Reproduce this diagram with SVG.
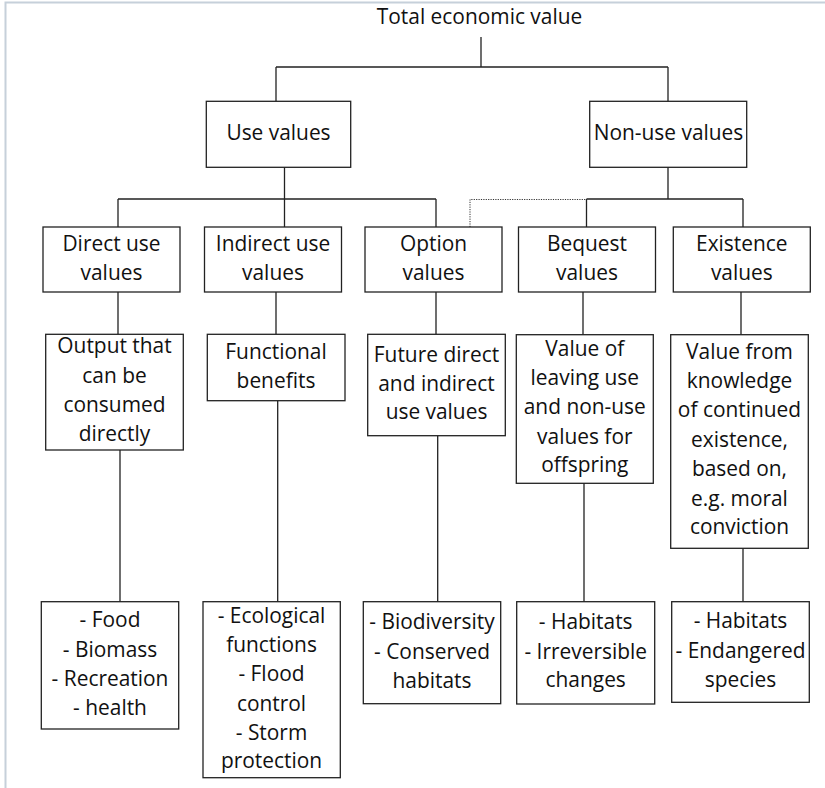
<svg xmlns="http://www.w3.org/2000/svg" width="825" height="788" viewBox="0 0 825 788">
<style>
.box{fill:#fff;stroke:#222;stroke-width:1.3}
.ln{fill:none;stroke:#222;stroke-width:1.3}
.dot{fill:none;stroke:#333;stroke-width:1;stroke-dasharray:1.2 1.2}
.frame{fill:none;stroke:#c6d0da;stroke-width:2}
text{font-family:"Open Sans","Noto Sans","DejaVu Sans",sans-serif;font-size:20.9px;fill:#111;text-anchor:middle}
</style>
<rect width="825" height="788" fill="#fff"/>
<path class="frame" d="M5.5,788 V2.5 H825"/>
<g id="connectors">
<path class="ln" d="M481,37 V67 M276,67 H668 M276,67 V101 M668,67 V101"/>
<path class="ln" d="M284.5,167 V227 M118,199 H436 M118,199 V227 M436,199 V227"/>
<path class="ln" d="M668,167 V199 M586.5,199 H743 M586.5,199 V227 M743,199 V227"/>
<path class="dot" d="M470,227 V199.5 H586"/>
<path class="ln" d="M118,292 V334 M276,292 V334 M436,292 V334 M583,292 V335 M741,292 V335"/>
<path class="ln" d="M120,450 V602 M277.7,401 V602 M437.7,436 V602 M584,483 V602 M743,548 V602"/>
</g>
<g id="total"><text x="479.5" y="24">Total economic value</text></g>
<g id="use"><rect class="box" x="206.3" y="101.3" width="144.4" height="66"/><text x="278.5" y="139.5">Use values</text></g>
<g id="nonuse"><rect class="box" x="589.7" y="101.3" width="157" height="66"/><text x="668.5" y="140">Non-use values</text></g>
<g id="direct"><rect class="box" x="43" y="227" width="137" height="65"/><text x="111.5" y="251">Direct use</text><text x="111.5" y="280">values</text></g>
<g id="indirect"><rect class="box" x="204.5" y="227" width="137" height="65"/><text x="273" y="251">Indirect use</text><text x="273" y="280">values</text></g>
<g id="option"><rect class="box" x="365" y="227" width="137" height="65"/><text x="433.5" y="251">Option</text><text x="433.5" y="280">values</text></g>
<g id="bequest"><rect class="box" x="518.5" y="227" width="137" height="65"/><text x="587" y="251">Bequest</text><text x="587" y="280">values</text></g>
<g id="existence"><rect class="box" x="673.3" y="227" width="137" height="65"/><text x="741.8" y="251">Existence</text><text x="741.8" y="280">values</text></g>
<g id="output"><rect class="box" x="45.7" y="334.3" width="137.6" height="115.7"/><text x="114.5" y="353.3">Output that</text><text x="114.5" y="383.3">can be</text><text x="114.5" y="412.3">consumed</text><text x="114.5" y="441">directly</text></g>
<g id="functional"><rect class="box" x="207.3" y="334.3" width="137.7" height="66.4"/><text x="276" y="359.3">Functional</text><text x="276" y="388.3">benefits</text></g>
<g id="future"><rect class="box" x="367.7" y="334.3" width="137.6" height="101.4"/><text x="436.5" y="361.7">Future direct</text><text x="436.5" y="390.7">and indirect</text><text x="436.5" y="419.3">use values</text></g>
<g id="leaving"><rect class="box" x="516.3" y="334.7" width="137" height="148.6"/><text x="584.8" y="355.7">Value of</text><text x="584.8" y="384.5">leaving use</text><text x="584.8" y="414">and non-use</text><text x="584.8" y="443.5">values for</text><text x="584.8" y="472.3">offspring</text></g>
<g id="knowledge"><rect class="box" x="670.7" y="334.7" width="137.6" height="213.6"/><text x="739.5" y="359">Value from</text><text x="739.5" y="388.3">knowledge</text><text x="739.5" y="417.3">of continued</text><text x="739.5" y="446.7">existence,</text><text x="739.5" y="476">based on,</text><text x="739.5" y="505.5">e.g. moral</text><text x="739.5" y="534.3">conviction</text></g>
<g id="food"><rect class="box" x="41.3" y="601.7" width="137.4" height="127.3"/><text x="110" y="626.7">- Food</text><text x="110" y="656.5">- Biomass</text><text x="110" y="685.7">- Recreation</text><text x="110" y="715">- health</text></g>
<g id="ecological"><rect class="box" x="203" y="601.7" width="137.3" height="176"/><text x="271.5" y="623.3">- Ecological</text><text x="271.5" y="651.7">functions</text><text x="271.5" y="680.7">- Flood</text><text x="271.5" y="710.5">control</text><text x="271.5" y="740">- Storm</text><text x="271.5" y="768.3">protection</text></g>
<g id="biodiversity"><rect class="box" x="363.3" y="601.7" width="137.4" height="102"/><text x="432" y="629">- Biodiversity</text><text x="432" y="659">- Conserved</text><text x="432" y="688">habitats</text></g>
<g id="habitats1"><rect class="box" x="516.7" y="601.7" width="138" height="102.3"/><text x="585.7" y="629">- Habitats</text><text x="585.7" y="659">- Irreversible</text><text x="585.7" y="687">changes</text></g>
<g id="habitats2"><rect class="box" x="671.7" y="601.7" width="137.6" height="100.6"/><text x="740.5" y="628.3">- Habitats</text><text x="740.5" y="657.7">- Endangered</text><text x="740.5" y="686.7">species</text></g>
</svg>
